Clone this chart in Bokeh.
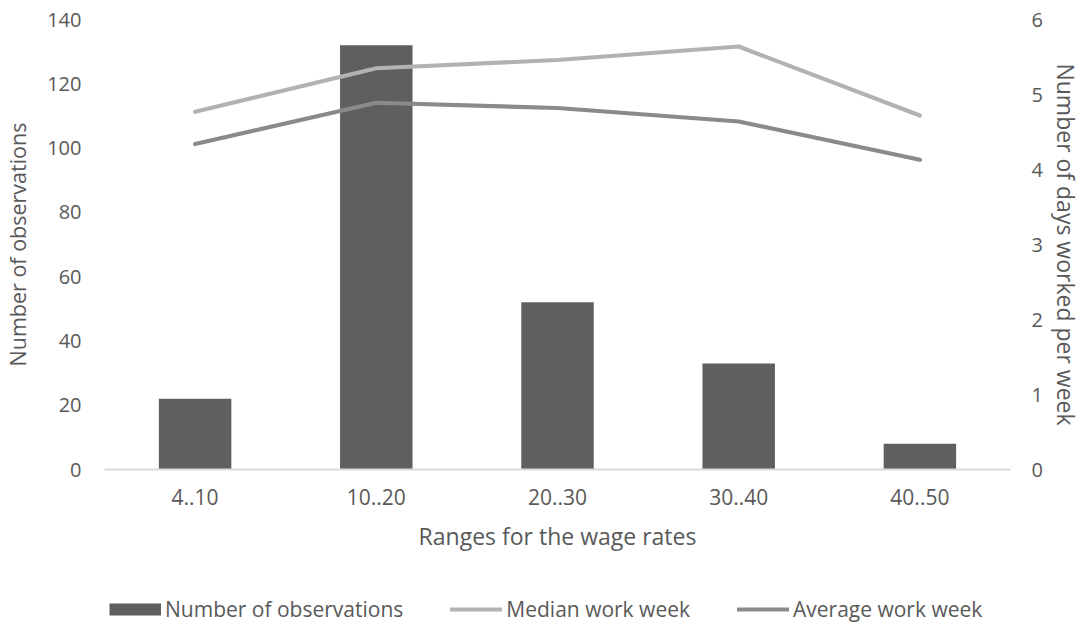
from bokeh.plotting import figure
from bokeh.layouts import column
from bokeh.models import (Range1d, LinearAxis, FixedTicker, Legend, LegendItem,
                          ColumnDataSource, FactorRange)
from bokeh.embed import file_html
from bokeh.resources import INLINE

categories = ["4..10", "10..20", "20..30", "30..40", "40..50"]
observations = [22, 132, 52, 33, 8]
median_week = [4.77, 5.35, 5.46, 5.64, 4.72]
average_week = [4.34, 4.89, 4.82, 4.64, 4.13]
left_ticks = [0, 20, 40, 60, 80, 100, 120, 140]
right_ticks = [0, 1, 2, 3, 4, 5, 6]

src = ColumnDataSource(dict(cat=categories, obs=observations,
                            med=median_week, avg=average_week))

FONT = "Open Sans"
TXT = "#595959"
BAR_C = "#5f5f5f"
MED_C = "#b2b2b2"
AVG_C = "#8a8a8a"

p = figure(width=1084, height=593, output_backend="svg", toolbar_location=None,
           x_range=FactorRange(factors=categories), y_range=Range1d(0, 140),
           min_border_left=104, min_border_right=74, min_border_top=19,
           min_border_bottom=124)
p.extra_y_ranges = {"right": Range1d(0, 6)}
p.outline_line_color = None
p.xgrid.grid_line_color = None
p.ygrid.grid_line_color = None

bars = p.vbar(x="cat", top="obs", width=0.4, source=src,
              fill_color=BAR_C, line_color=None)
med = p.line(x="cat", y="med", source=src, y_range_name="right",
             line_color=MED_C, line_width=4.2, line_cap="round", line_join="round")
avg = p.line(x="cat", y="avg", source=src, y_range_name="right",
             line_color=AVG_C, line_width=4.2, line_cap="round", line_join="round")

def style_axis(ax, tick_fs, title_fs):
    ax.major_tick_line_color = None
    ax.minor_tick_line_color = None
    ax.major_label_text_font = FONT
    ax.major_label_text_font_size = tick_fs
    ax.major_label_text_color = TXT
    ax.axis_label_text_font = FONT
    ax.axis_label_text_font_size = title_fs
    ax.axis_label_text_color = TXT
    ax.axis_label_text_font_style = "normal"

xa = p.xaxis[0]
style_axis(xa, "21px", "23px")
xa.axis_label = "Ranges for the wage rates"
xa.axis_line_color = "#d9d9d9"
xa.axis_line_width = 2
xa.major_label_standoff = 13
xa.axis_label_standoff = 12

ya = p.yaxis[0]
style_axis(ya, "20px", "21.5px")
ya.axis_label = "Number of observations"
ya.ticker = FixedTicker(ticks=left_ticks)
ya.axis_line_color = None
ya.major_label_standoff = 17
ya.axis_label_standoff = 12

ra = LinearAxis(y_range_name="right", ticker=FixedTicker(ticks=right_ticks),
                axis_label="Number of days worked per week")
style_axis(ra, "20px", "23px")
ra.axis_line_color = None
ra.major_label_standoff = 15
ra.axis_label_standoff = 4
p.add_layout(ra, "right")

# legend strip below the chart (its frame is aligned with the chart's frame)
lg = figure(width=1084, height=32, output_backend="svg", toolbar_location=None,
            x_range=Range1d(0, 1), y_range=Range1d(0, 1),
            x_axis_location=None, y_axis_location=None,
            min_border_left=0, min_border_right=0, min_border_top=0,
            min_border_bottom=0)
lg.outline_line_color = None
lg.grid.visible = False
nan = float("nan")
empty = ColumnDataSource(dict(x=[nan], y=[nan]))
lb = lg.line(x="x", y="y", source=empty, line_color=BAR_C, line_width=12, line_cap="butt")
lm = lg.line(x="x", y="y", source=empty, line_color=MED_C, line_width=4.2, line_cap="round")
la = lg.line(x="x", y="y", source=empty, line_color=AVG_C, line_width=4.2, line_cap="round")

legend = Legend(items=[
    LegendItem(label="Number of observations", renderers=[lb]),
    LegendItem(label="Median work week", renderers=[lm]),
    LegendItem(label="Average work week", renderers=[la]),
], orientation="horizontal", location="left",
    label_text_font=FONT, label_text_font_size="21px", label_text_color=TXT,
    glyph_width=52, glyph_height=14, label_standoff=4, spacing=47,
    padding=0, margin=5, border_line_color=None, background_fill_alpha=0)
lg.add_layout(legend, "center")

open("out.html", "w").write(file_html(column(p, lg), INLINE))
